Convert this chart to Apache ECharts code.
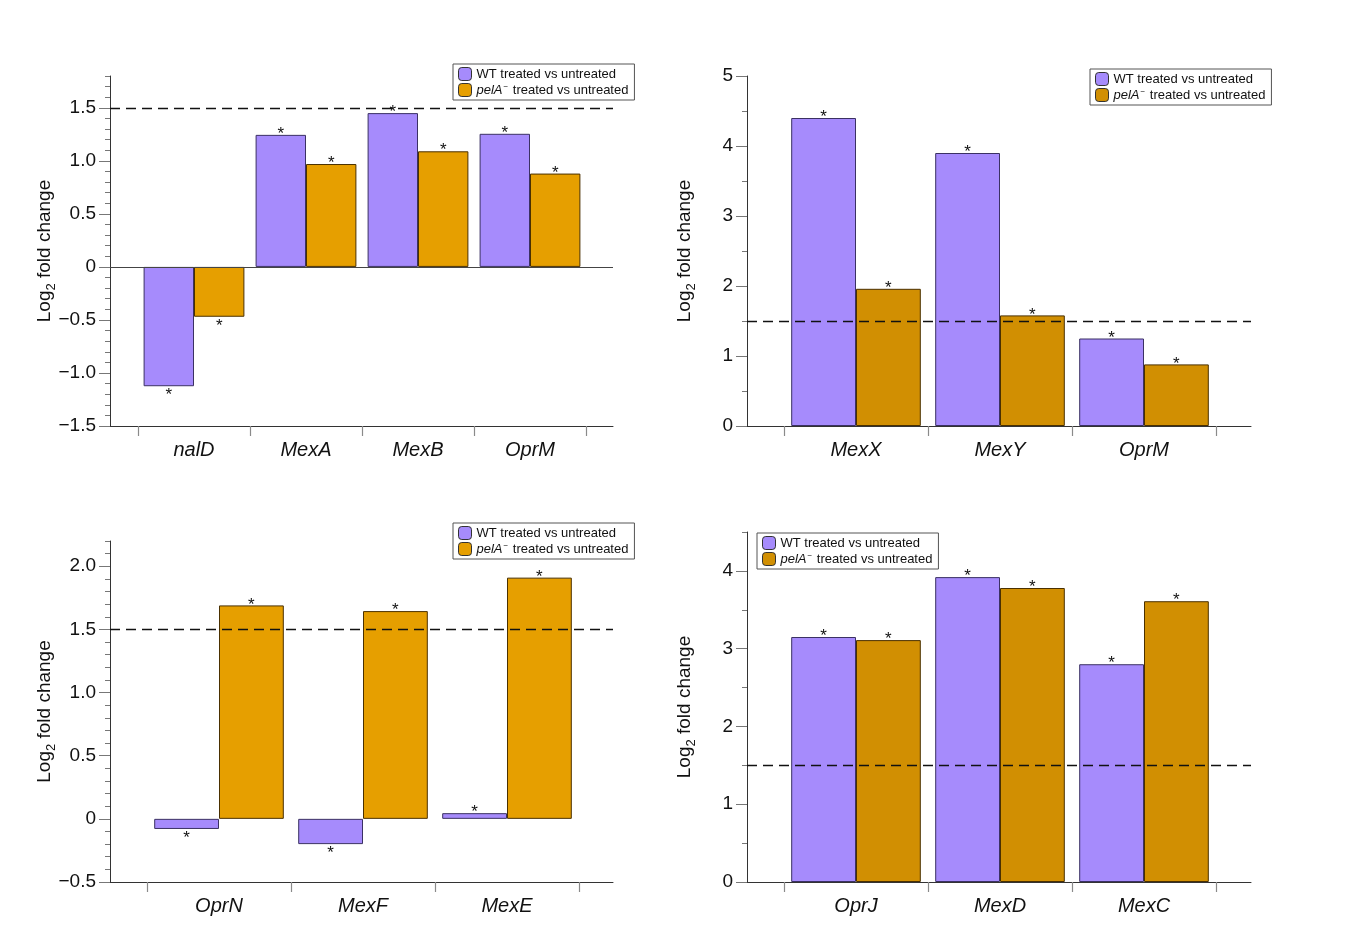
<!DOCTYPE html>
<html>
<head>
<meta charset="utf-8">
<script src="https://cdn.jsdelivr.net/npm/echarts@6/dist/echarts.min.js"></script>
<style>
html,body{margin:0;padding:0;background:#fff;}
#chart{width:1357px;height:933px;}
</style>
</head>
<body>
<div id="chart"></div>
<script>
// ---------- DATA ----------
const seriesNames = ['WT treated vs untreated', 'pelA\u207B treated vs untreated'];
const threshold = 1.5;

const p1Categories = ['nalD', 'MexA', 'MexB', 'OprM'];
const p1WT = [-1.125, 1.245, 1.45, 1.255];
const p1PelA = [-0.47, 0.97, 1.09, 0.88];
const p1Ticks = [-1.5, -1.0, -0.5, 0, 0.5, 1.0, 1.5];
const p1TickLabels = ['\u22121.5', '\u22121.0', '\u22120.5', '0', '0.5', '1.0', '1.5'];

const p2Categories = ['MexX', 'MexY', 'OprM'];
const p2WT = [4.40, 3.90, 1.25];
const p2PelA = [1.96, 1.58, 0.88];
const p2Ticks = [0, 1, 2, 3, 4, 5];
const p2TickLabels = ['0', '1', '2', '3', '4', '5'];

const p3Categories = ['OprN', 'MexF', 'MexE'];
const p3WT = [-0.08, -0.2, 0.045];
const p3PelA = [1.69, 1.645, 1.91];
const p3Ticks = [-0.5, 0, 0.5, 1.0, 1.5, 2.0];
const p3TickLabels = ['\u22120.5', '0', '0.5', '1.0', '1.5', '2.0'];

const p4Categories = ['OprJ', 'MexD', 'MexC'];
const p4WT = [3.15, 3.92, 2.80];
const p4PelA = [3.11, 3.78, 3.61];
const p4Ticks = [0, 1, 2, 3, 4];
const p4TickLabels = ['0', '1', '2', '3', '4'];

// ---------- STYLE / LAYOUT ----------
const FONT = '"Liberation Sans", Arial, Helvetica, sans-serif';
const PURPLE = '#A68BFC';
const panels = [
  {cats: p1Categories, wt: p1WT, pel: p1PelA, ticks: p1Ticks, tickLabels: p1TickLabels,
   min: -1.5, max: 1.8, minor: 0.1, orange: '#E69F00', zero: true, nameGap: 55,
   gridA: {left: 110, top: 76, width: 503, height: 350}, gridB: {left: 138, width: 448},
   legend: {left: 453, top: 64}},
  {cats: p2Categories, wt: p2WT, pel: p2PelA, ticks: p2Ticks, tickLabels: p2TickLabels,
   min: 0, max: 5, minor: 0.5, orange: '#D18F02', zero: false, nameGap: 52,
   gridA: {left: 747, top: 76, width: 504, height: 350}, gridB: {left: 784, width: 432},
   legend: {left: 1090, top: 69}},
  {cats: p3Categories, wt: p3WT, pel: p3PelA, ticks: p3Ticks, tickLabels: p3TickLabels,
   min: -0.5, max: 2.2, minor: 0.1, orange: '#E69F00', zero: false, nameGap: 55,
   gridA: {left: 110, top: 541, width: 503, height: 341}, gridB: {left: 147, width: 432},
   legend: {left: 453, top: 523}},
  {cats: p4Categories, wt: p4WT, pel: p4PelA, ticks: p4Ticks, tickLabels: p4TickLabels,
   min: 0, max: 4.5, minor: 0.5, orange: '#D18F02', zero: false, nameGap: 52,
   gridA: {left: 747, top: 532, width: 504, height: 350}, gridB: {left: 784, width: 432},
   legend: {left: 757, top: 533}}
];

const grid = [], xAxis = [], yAxis = [], series = [], legend = [];

panels.forEach((p, i) => {
  const gA = grid.length;
  grid.push(Object.assign({containLabel: false}, p.gridA));
  const gB = grid.length;
  grid.push({left: p.gridB.left, width: p.gridB.width, top: p.gridA.top, height: p.gridA.height, containLabel: false});

  // frame x axis (full width line)
  const xA = xAxis.length;
  xAxis.push({type: 'value', gridIndex: gA, position: 'bottom', min: 0, max: 1,
    axisLine: {show: true, onZero: false, lineStyle: {color: '#333', width: 1}},
    axisTick: {show: false}, axisLabel: {show: false}, splitLine: {show: false}});
  // category x axis
  const xB = xAxis.length;
  xAxis.push({type: 'category', gridIndex: gB, position: 'bottom', data: p.cats,
    axisLine: {show: false, onZero: false},
    axisTick: {show: true, length: 10, lineStyle: {color: '#8a8a8a', width: 1.2}},
    axisLabel: {fontFamily: FONT, fontStyle: 'italic', fontSize: 20, color: '#111', margin: 14},
    splitLine: {show: false}});

  // minor ticks + axis line
  const yA0 = yAxis.length;
  yAxis.push({type: 'value', gridIndex: gA, position: 'left', min: p.min, max: p.max, interval: p.minor,
    axisLine: {show: true, onZero: false, lineStyle: {color: '#333', width: 1}},
    axisTick: {show: true, length: 5, lineStyle: {color: '#777', width: 1}},
    axisLabel: {show: false}, splitLine: {show: false}});
  // major ticks + labels + name
  yAxis.push({type: 'value', gridIndex: gA, position: 'left', min: p.min, max: p.max,
    axisLine: {show: false},
    axisTick: {show: true, length: 11, customValues: p.ticks, lineStyle: {color: '#777', width: 1}},
    axisLabel: {show: true, customValues: p.ticks, fontFamily: FONT, fontSize: 19, color: '#111', margin: 14,
      formatter: v => { const k = p.ticks.findIndex(t => Math.abs(t - v) < 1e-9); return k >= 0 ? p.tickLabels[k] : ''; }},
    splitLine: {show: false},
    name: '{a|Log}{b|2}{a| fold change}', nameLocation: 'middle', nameRotate: 90, nameGap: p.nameGap,
    nameMoveOverlap: false,
    nameTextStyle: {fontFamily: FONT, color: '#111',
      rich: {a: {fontFamily: FONT, fontSize: 19, lineHeight: 20, verticalAlign: 'top', color: '#111'},
             b: {fontFamily: FONT, fontSize: 13, lineHeight: 13, padding: [10, 0, 0, 0], verticalAlign: 'top', color: '#111'}}}});
  // bars y axis (hidden)
  const yB = yAxis.length;
  yAxis.push({type: 'value', gridIndex: gB, position: 'left', min: p.min, max: p.max, show: false});

  const mk = (vals, color, border, name) => ({
    type: 'bar', name: name, xAxisIndex: xB, yAxisIndex: yB, z: 2,
    barGap: '0%', barCategoryGap: '10%',
    itemStyle: {color: color, borderColor: border, borderWidth: 1},
    label: {show: true, formatter: '*', fontFamily: FONT, fontSize: 17, color: '#111'},
    data: vals.map(v => ({value: v, label: v < 0 ? {position: 'bottom', distance: 1} : {position: 'top', distance: 0, offset: [0, 8]}}))
  });
  series.push(mk(p.wt, PURPLE, '#3b3163', seriesNames[0]));
  series.push(mk(p.pel, p.orange, '#4a3000', seriesNames[1]));

  const lines = [{yAxis: threshold, lineStyle: {type: [10, 6], color: '#111', width: 1.3}}];
  if (p.zero) lines.push({yAxis: 0, lineStyle: {type: 'solid', color: '#444', width: 1}});
  series.push({type: 'line', xAxisIndex: xA, yAxisIndex: yA0, data: [], z: 5, silent: true,
    markLine: {symbol: 'none', silent: true, label: {show: false}, data: lines}});

  legend.push({
    left: p.legend.left, top: p.legend.top, orient: 'vertical', itemGap: 2,
    itemWidth: 13, itemHeight: 13, icon: 'roundRect', padding: [3, 6, 3, 5],
    borderColor: '#555', borderWidth: 1, backgroundColor: '#fff', selectedMode: false,
    itemStyle: {borderColor: '#333', borderWidth: 1},
    data: [{name: seriesNames[0], itemStyle: {color: PURPLE}}, {name: seriesNames[1], itemStyle: {color: p.orange}}],
    textStyle: {fontFamily: FONT, fontSize: 13, color: '#111',
      rich: {i: {fontFamily: FONT, fontSize: 13, fontStyle: 'italic', color: '#111'},
             s: {fontFamily: FONT, fontSize: 8, verticalAlign: 'top', padding: [0, 1, 6, 1], color: '#111'},
             n: {fontFamily: FONT, fontSize: 13, color: '#111'}}},
    formatter: name => name.indexOf('pelA') === 0 ? '{i|pelA}{s|\u2212}{n| treated vs untreated}' : name
  });
});

const chart = echarts.init(document.getElementById('chart'), null, {renderer: 'canvas'});
chart.setOption({animation: false, backgroundColor: '#fff', grid, xAxis, yAxis, series, legend});
</script>
</body>
</html>
